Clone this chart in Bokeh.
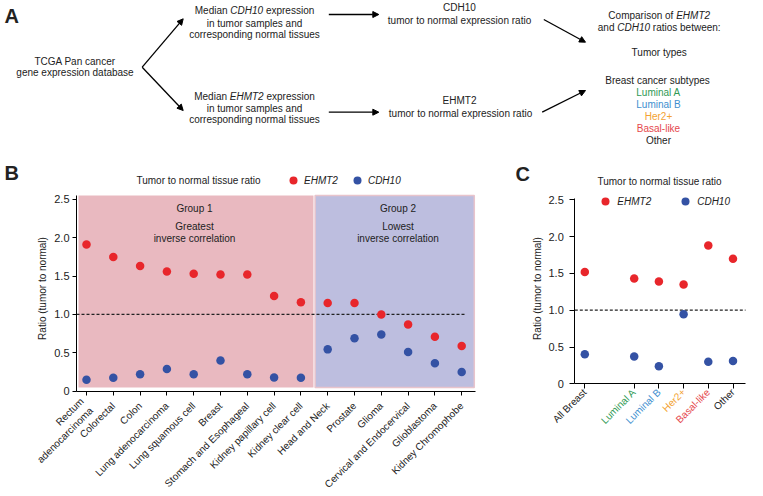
import math
from bokeh.plotting import figure
from bokeh.models import (Range1d, FixedTicker, Legend, LegendItem, Label, Arrow,
                          NormalHead)
from bokeh.layouts import column, row
from bokeh.embed import file_html
from bokeh.resources import INLINE

FONT = "Liberation Sans"
TXT = "#222222"
RED = "#E8262B"
BLUE = "#3452A4"
PINK_BG = "#E9B9C0"
BLUE_BG = "#BDBEDF"

# ---------------- data ----------------
tumor_types = ["Rectum\nadenocarcinoma", "Colorectal", "Colon", "Lung adenocarcinoma",
               "Lung squamous cell", "Breast", "Stomach and Esophageal",
               "Kidney papillary cell", "Kidney clear cell", "Head and Neck", "Prostate",
               "Glioma", "Cervical and Endocervical", "Glioblastoma", "Kidney Chromophobe"]
ehmt2_tumor = [1.91, 1.75, 1.63, 1.56, 1.53, 1.52, 1.52, 1.24, 1.16, 1.15, 1.15, 1.00,
               0.87, 0.71, 0.59]
cdh10_tumor = [0.15, 0.175, 0.22, 0.29, 0.22, 0.40, 0.22, 0.18, 0.175, 0.545, 0.69, 0.74,
               0.51, 0.365, 0.25]
group_names = ["Group 1", "Group 2"]
group_desc = ["Greatest", "Lowest"]
group_first = [0, 9]
group_last = [8, 14]

subtypes = ["All Breast", "Luminal A", "Luminal B", "Her2+", "Basal-like", "Other"]
subtype_slot = [0, 2, 3, 4, 5, 6]
subtype_colors = ["#222222", "#2F9A55", "#3E8FCF", "#F3A233", "#E5484D", "#222222"]
ehmt2_subtype = [1.52, 1.43, 1.39, 1.35, 1.88, 1.70]
cdh10_subtype = [0.40, 0.37, 0.24, 0.945, 0.30, 0.31]

y_ticks = [0, 0.5, 1.0, 1.5, 2.0, 2.5]
y_tick_labels = ["0", "0.5", "1.0", "1.5", "2.0", "2.5"]
ref_ratio = 1.0

FS = 10  # px

# Arial / Liberation Sans advance widths (per 1000 em)
W = {' ': 278, 'a': 556, 'b': 556, 'c': 500, 'd': 556, 'e': 556, 'f': 278, 'g': 556,
     'h': 556, 'i': 222, 'l': 222, 'm': 833, 'n': 556, 'o': 556, 'p': 556, 'r': 333,
     's': 500, 't': 278, 'u': 556, 'w': 722, 'x': 500, 'y': 500, ':': 278, 'C': 722,
     'D': 722, 'E': 667, 'H': 722, 'M': 833, 'T': 611, '1': 556, '0': 556, '2': 556}


def tw(s, fs=FS):
    return sum(W.get(ch, 556) for ch in s) * fs / 1000.0


def lab(p, x, y, text, align="center", style="normal", size=FS, color=TXT, **kw):
    p.add_layout(Label(x=x, y=y, text=text, text_align=align, text_baseline="middle",
                       text_font=FONT, text_font_size=f"{size}px", text_font_style=style,
                       text_color=color, **kw))


def mixed(p, cx, y, parts):
    total = sum(tw(t) for t, _ in parts) + tw(" ") * (len(parts) - 1)
    x = cx - total / 2
    for t, it in parts:
        lab(p, x, y, t, align="left", style="italic" if it else "normal")
        x += tw(t) + tw(" ")


# ---------------- panel A (pixel coordinates) ----------------
pa = figure(width=763, height=154, x_range=Range1d(0, 763), y_range=Range1d(154, 0),
            output_backend="svg", toolbar_location=None, x_axis_location=None,
            y_axis_location=None, min_border=0)
pa.grid.visible = False
pa.outline_line_color = None

lab(pa, 4, 15, "A", align="left", style="bold", size=20)
lab(pa, 74.5, 61, "TCGA Pan cancer")
lab(pa, 74.5, 72, "gene expression database")
mixed(pa, 254, 10, [("Median", False), ("CDH10", True), ("expression", False)])
lab(pa, 254, 22.5, "in tumor samples and")
lab(pa, 254, 34.3, "corresponding normal tissues")
mixed(pa, 254, 95.7, [("Median", False), ("EHMT2", True), ("expression", False)])
lab(pa, 254, 107.7, "in tumor samples and")
lab(pa, 254, 119, "corresponding normal tissues")
lab(pa, 459, 7, "CDH10")
lab(pa, 459, 20, "tumor to normal expression ratio")
lab(pa, 459, 100, "EHMT2")
lab(pa, 460, 113, "tumor to normal expression ratio")
mixed(pa, 658.7, 15, [("Comparison of", False), ("EHMT2", True)])
mixed(pa, 658.7, 26.7, [("and", False), ("CDH10", True), ("ratios between:", False)])
lab(pa, 658.7, 51.7, "Tumor types")
lab(pa, 657, 80, "Breast cancer subtypes")
for i, (name, col) in enumerate(zip(subtypes[1:], subtype_colors[1:])):
    lab(pa, 658, 91.7 + i * 12.1, name, color=col)

for (x0, y0, x1, y1) in [(141.7, 66.7, 182.7, 18.3), (141.7, 66.7, 182.7, 110),
                         (328.3, 14, 378.3, 14), (328.3, 111.7, 378.3, 111.7),
                         (543.3, 19, 585, 41.7), (541.7, 111.7, 585, 90)]:
    pa.add_layout(Arrow(end=NormalHead(size=6, fill_color="black", line_color="black",
                                       line_width=1),
                        x_start=x0, y_start=y0, x_end=x1, y_end=y1,
                        line_color="black", line_width=1.3))


def style_axes(p, y_standoff, tick_out):
    p.grid.visible = False
    p.outline_line_color = None
    for ax in (p.xaxis[0], p.yaxis[0]):
        ax.axis_line_color = "black"
        ax.axis_line_width = 1
        ax.major_tick_line_color = "black"
        ax.major_tick_in = 0
        ax.major_tick_out = tick_out
        ax.minor_tick_line_color = None
        ax.major_label_text_font = FONT
        ax.major_label_text_color = TXT
    p.yaxis.ticker = FixedTicker(ticks=y_ticks)
    p.yaxis.major_label_overrides = dict(zip(y_ticks, y_tick_labels))
    p.yaxis.major_label_text_font_size = "11px"
    p.yaxis.major_label_standoff = y_standoff


# ---------------- panel B ----------------
# pixel -> data helpers for text placement
def bx(px):
    return (px - 86) / 26.8


def by(py):
    return (390.7 - py) / 76.75


pb = figure(width=510, height=342, x_range=Range1d(bx(0), bx(510)),
            y_range=Range1d(by(496), by(154)), output_backend="svg",
            toolbar_location=None, min_border=0)
style_axes(pb, 3, 4)
pb.yaxis.fixed_location = bx(76)
pb.yaxis.bounds = (0, 2.55)
pb.xaxis.fixed_location = 0
pb.xaxis.bounds = (bx(76), bx(475))
pb.xaxis.ticker = FixedTicker(ticks=list(range(len(tumor_types))))
pb.xaxis.major_label_overrides = {i: t for i, t in enumerate(tumor_types)}
pb.xaxis.major_label_orientation = math.pi / 4
pb.xaxis.major_label_text_font_size = f"{FS}px"
pb.xaxis.major_label_standoff = 9

lefts = [max(f - 0.47, bx(78)) for f in group_first]
rights = [l + 0.47 for l in group_last]
pb.quad(left=lefts[:1], right=rights[:1], bottom=by(387), top=2.55, fill_color=PINK_BG,
        line_color=None)
pb.quad(left=lefts[1:], right=rights[1:], bottom=by(387), top=2.55, fill_color=BLUE_BG,
        line_color="#E8C4CC", line_width=1.5)
pb.segment(x0=[bx(76)], y0=[ref_ratio], x1=[bx(466)], y1=[ref_ratio], line_color="#222222",
           line_width=1.2, line_dash="3 2")
xb = list(range(len(tumor_types)))
rb_red = pb.scatter(xb, ehmt2_tumor, size=8.5, fill_color=RED, line_color=None)
rb_blue = pb.scatter(xb, cdh10_tumor, size=8.5, fill_color=BLUE, line_color=None)

for gx, gname, gdesc in zip([bx(194), bx(397.5)], group_names, group_desc):
    lab(pb, gx, by(208), gname)
    lab(pb, gx, by(225.7), gdesc)
    lab(pb, gx, by(237.7), "inverse correlation")

lab(pb, bx(42), by(288), "Ratio (tumor to normal)", angle=math.pi / 2)
lab(pb, bx(198), by(180), "Tumor to normal tissue ratio")
lab(pb, bx(4), by(172), "B", align="left", style="bold", size=20)

# legend location = bottom-left corner of the legend box, from the frame's bottom-left
leg_b = Legend(items=[LegendItem(label="EHMT2", renderers=[rb_red]),
                      LegendItem(label="CDH10", renderers=[rb_blue])],
               orientation="horizontal", location=(283, 496 - 190), glyph_width=20,
               glyph_height=20, label_standoff=1, spacing=9, padding=0, margin=0,
               background_fill_alpha=0, border_line_alpha=0,
               label_text_font=FONT, label_text_font_style="italic",
               label_text_font_size=f"{FS}px", label_text_color=TXT, label_height=20)
pb.add_layout(leg_b)


# ---------------- panel C ----------------
def cx(px):
    return (px - 584.3) / 24.7


def cy(py):
    return (383.3 - py) / 73.6


pc = figure(width=253, height=342, x_range=Range1d(cx(510), cx(763)),
            y_range=Range1d(cy(496), cy(154)), output_backend="svg",
            toolbar_location=None, min_border=0)
style_axes(pc, 6, 5)
pc.yaxis.fixed_location = cx(574.3)
pc.yaxis.bounds = (0, 2.52)
pc.xaxis.fixed_location = 0
pc.xaxis.bounds = (cx(574.3), cx(745))
pc.xaxis.ticker = FixedTicker(ticks=subtype_slot)
pc.xaxis.major_label_text_alpha = 0
pc.xaxis.major_label_text_font_size = "1px"

pc.segment(x0=[cx(574.3)], y0=[ref_ratio], x1=[cx(745)], y1=[ref_ratio],
           line_color="#222222", line_width=1.2, line_dash="3 2")
rc_red = pc.scatter(subtype_slot, ehmt2_subtype, size=8.5, fill_color=RED, line_color=None)
rc_blue = pc.scatter(subtype_slot, cdh10_subtype, size=8.5, fill_color=BLUE, line_color=None)

for s, name, col in zip(subtype_slot, subtypes, subtype_colors):
    lab(pc, s, cy(390), name, align="right", color=col, angle=math.pi / 4)

lab(pc, cx(536.7), cy(288), "Ratio (tumor to normal)", angle=math.pi / 2)
lab(pc, cx(659), cy(181), "Tumor to normal tissue ratio")
lab(pc, cx(515), cy(173), "C", align="left", style="bold", size=20)

leg_c = Legend(items=[LegendItem(label="EHMT2", renderers=[rc_red]),
                      LegendItem(label="CDH10", renderers=[rc_blue])],
               orientation="horizontal", location=(595.3 - 510, 496 - 211), glyph_width=20,
               glyph_height=20, label_standoff=2, spacing=24, padding=0, margin=0,
               background_fill_alpha=0, border_line_alpha=0,
               label_text_font=FONT, label_text_font_style="italic",
               label_text_font_size=f"{FS}px", label_text_color=TXT, label_height=20)
pc.add_layout(leg_c)

layout = column(pa, row(pb, pc, spacing=0), spacing=0)
open("out.html", "w").write(file_html(layout, INLINE))
